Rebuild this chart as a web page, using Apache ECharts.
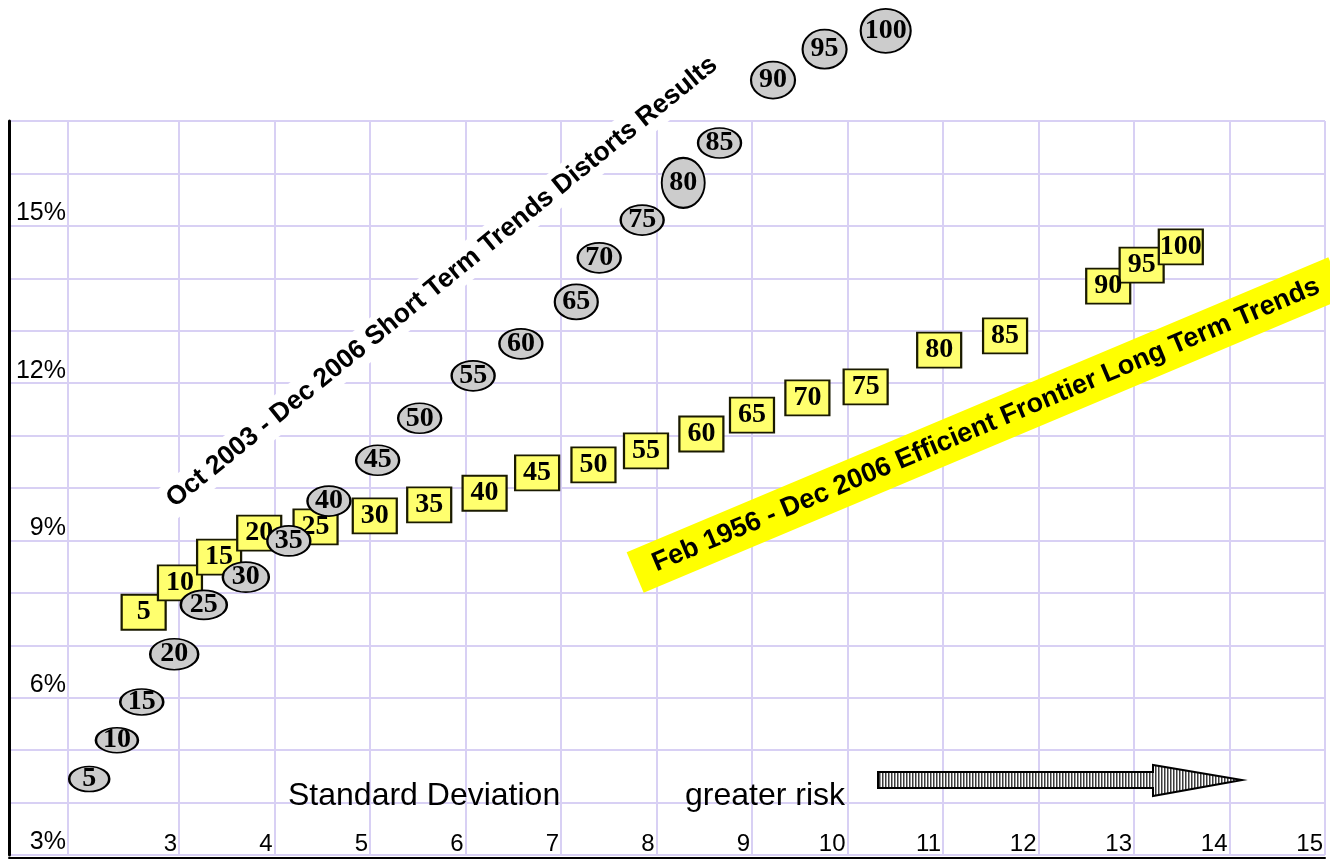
<!DOCTYPE html>
<html>
<head>
<meta charset="utf-8">
<script src="https://cdn.jsdelivr.net/npm/echarts@6/dist/echarts.min.js"></script>
<style>
  html, body { margin: 0; padding: 0; background: #ffffff; }
  #chart { width: 1330px; height: 859px; }
</style>
</head>
<body>
<div id="chart"></div>
<script>
// Stock allocation (%) of each portfolio on the two frontiers
const allocations = [5, 10, 15, 20, 25, 30, 35, 40, 45, 50, 55, 60, 65, 70, 75, 80, 85, 90, 95, 100];

// Feb 1956 - Dec 2006 efficient frontier: standard deviation and annual return (%)
const longTermRisk   = [2.63, 3.01, 3.42, 3.84, 4.43, 5.05, 5.62, 6.20, 6.75, 7.34, 7.89, 8.47, 9.00, 9.58, 10.19, 10.96, 11.65, 12.73, 13.08, 13.49];
const longTermReturn = [7.63, 8.19, 8.68, 9.14, 9.26, 9.47, 9.68, 9.90, 10.29, 10.44, 10.71, 11.03, 11.39, 11.72, 11.93, 12.63, 12.90, 13.85, 14.25, 14.60];

// Oct 2003 - Dec 2006 short-term results
const shortTermRisk   = [2.06, 2.35, 2.61, 2.95, 3.26, 3.70, 4.15, 4.57, 5.08, 5.52, 6.08, 6.58, 7.16, 7.40, 7.85, 8.28, 8.66, 9.22, 9.76, 10.40];
const shortTermReturn = [4.45, 5.19, 5.92, 6.83, 7.77, 8.30, 8.99, 9.75, 10.53, 11.33, 12.14, 12.75, 13.55, 14.39, 15.11, 15.82, 16.58, 17.78, 18.37, 18.72];

// Axis ticks
const riskTicks = [3, 4, 5, 6, 7, 8, 9, 10, 11, 12, 13, 14, 15];
const riskGridExtra = [1.84];
const returnTicks = [3, 6, 9, 12, 15];

const sansFont = '"Liberation Sans", Arial, Helvetica, sans-serif';
const serifFont = '"Liberation Serif", "Times New Roman", serif';
const gridColor = '#D8D0F4';

// Ellipse sizes that differ from the default bubble
const ellipseSize = {
  5: [40, 25], 10: [42, 25], 15: [43, 26], 20: [48, 31], 25: [46, 29], 30: [46, 30],
  65: [43, 35], 80: [43, 50], 90: [44, 37], 95: [44, 39], 100: [50, 44]
};

const longTermData = allocations.map((a, i) => [longTermRisk[i], longTermReturn[i], a]);
const shortTermData = allocations.map((a, i) => [shortTermRisk[i], shortTermReturn[i], a]);

// Vertical hatching for the "greater risk" arrow
const hatch = document.createElement('canvas');
hatch.width = 3; hatch.height = 4;
const hc = hatch.getContext('2d');
hc.fillStyle = '#ffffff'; hc.fillRect(0, 0, 3, 4);
hc.fillStyle = '#3c3c3c'; hc.fillRect(0, 0, 1, 4);
hc.fillStyle = '#9a9a9a'; hc.fillRect(1, 0, 1, 4);

const markLabel = {
  show: true,
  position: 'inside',
  formatter: p => String(p.value[2]),
  fontFamily: serifFont,
  fontWeight: 'bold',
  fontSize: 28,
  color: '#000'
};

const chart = echarts.init(document.getElementById('chart'), null, { renderer: 'canvas' });

chart.setOption({
  animation: false,
  backgroundColor: '#ffffff',
  grid: { left: 9, right: 5, top: 121, bottom: 4, containLabel: false },
  xAxis: {
    type: 'value',
    min: 1.22,
    max: 15,
    offset: 3,
    axisLine: { show: true, onZero: false, lineStyle: { color: '#000', width: 2 } },
    axisTick: { show: false, customValues: riskGridExtra.concat(riskTicks) },
    splitLine: { show: true, lineStyle: { color: gridColor, width: 2 } },
    axisLabel: {
      inside: true,
      margin: 2,
      align: 'right',
      padding: [0, 2, 0, 0],
      customValues: riskTicks,
      fontFamily: sansFont,
      fontSize: 24,
      color: '#000'
    }
  },
  yAxis: {
    type: 'value',
    min: 3,
    max: 17,
    interval: 1,
    axisLine: { show: true, lineStyle: { color: '#000', width: 3 } },
    axisTick: { show: false },
    splitLine: { show: true, lineStyle: { color: gridColor, width: 2 } },
    axisLabel: {
      inside: true,
      margin: 57,
      align: 'right',
      verticalAlign: 'bottom',
      fontFamily: sansFont,
      fontSize: 25,
      color: '#000',
      formatter: v => (returnTicks.indexOf(v) >= 0 ? v + '%' : '')
    }
  },
  graphic: [
    {
      type: 'text',
      z: 1,
      x: 442, y: 282,
      rotation: 39 * Math.PI / 180,
      style: {
        text: 'Oct 2003 - Dec 2006 Short Term Trends Distorts Results',
        font: 'bold 26.5px ' + sansFont,
        fill: '#000',
        align: 'center',
        verticalAlign: 'middle',
        backgroundColor: '#ffffff',
        padding: [4, 8]
      }
    },
    {
      type: 'text',
      z: 1,
      x: 986, y: 425,
      rotation: 22.8 * Math.PI / 180,
      style: {
        text: 'Feb 1956 - Dec 2006 Efficient Frontier Long Term Trends',
        font: 'bold 27px ' + sansFont,
        fill: '#000',
        align: 'center',
        verticalAlign: 'middle',
        backgroundColor: '#FFFF00',
        padding: [6, 20, 11, 20]
      }
    },
    {
      type: 'text',
      z: 1,
      x: 288, y: 796,
      style: {
        text: 'Standard Deviation',
        font: '32px ' + sansFont,
        fill: '#000',
        align: 'left',
        verticalAlign: 'middle'
      }
    },
    {
      type: 'text',
      z: 1,
      x: 685, y: 796,
      style: {
        text: 'greater risk',
        font: '32px ' + sansFont,
        fill: '#000',
        align: 'left',
        verticalAlign: 'middle'
      }
    },
    {
      type: 'polygon',
      z: 1,
      shape: {
        points: [[878, 772], [1153, 772], [1153, 765], [1242, 780], [1153, 796], [1153, 788], [878, 788]]
      },
      style: {
        fill: { image: hatch, repeat: 'repeat' },
        stroke: '#000',
        lineWidth: 2
      }
    }
  ],
  series: [
    {
      name: 'Feb 1956 - Dec 2006',
      type: 'scatter',
      z: 2,
      clip: false,
      symbol: 'rect',
      symbolSize: [44, 35],
      itemStyle: { color: '#FFFF6E', borderColor: '#1a1a00', borderWidth: 2, opacity: 1 },
      label: markLabel,
      data: longTermData
    },
    {
      name: 'Oct 2003 - Dec 2006',
      type: 'scatter',
      z: 3,
      clip: false,
      symbol: 'path://M0 50A50 50 0 1 1 100 50A50 50 0 1 1 0 50Z',
      symbolSize: (val) => ellipseSize[val[2]] || [43, 30],
      itemStyle: { color: '#CCCCCC', borderColor: '#000', borderWidth: 2, opacity: 1 },
      label: markLabel,
      data: shortTermData
    }
  ]
});
</script>
</body>
</html>
